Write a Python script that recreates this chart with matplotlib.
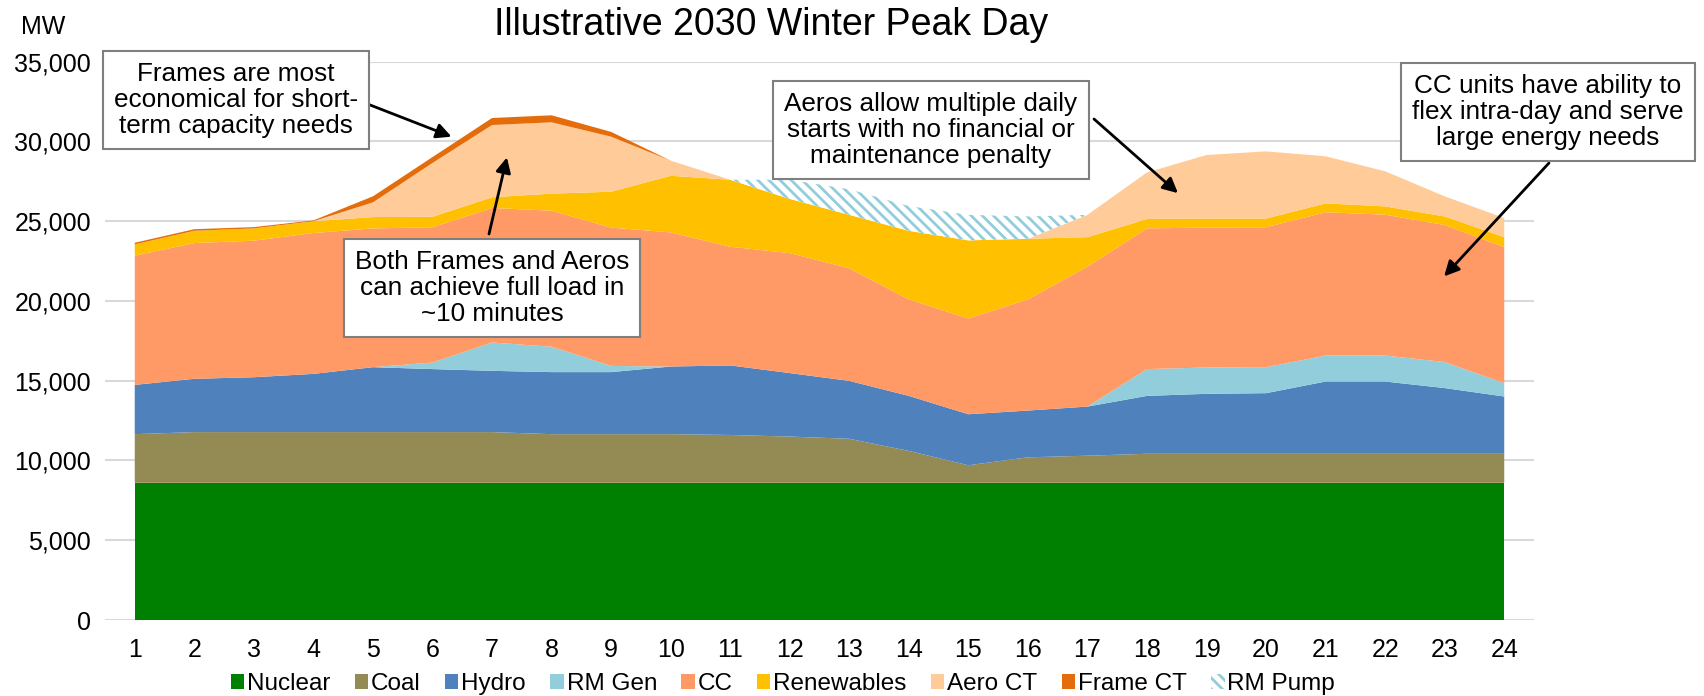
import matplotlib
matplotlib.use("Agg")
import matplotlib.pyplot as plt
from matplotlib.ticker import FuncFormatter

plt.rcParams["font.family"] = ["Liberation Sans", "DejaVu Sans"]
plt.rcParams["hatch.linewidth"] = 2.0
plt.rcParams["hatch.color"] = "#92CDDC"

hours = list(range(1, 25))
labels = ["Nuclear", "Coal", "Hydro", "RM Gen", "CC", "Renewables", "Aero CT", "Frame CT", "RM Pump"]
colors = ["#008000", "#948A54", "#4F81BD", "#92CDDC", "#FF9966", "#FFC000", "#FFCC99", "#E46C0A", "white"]

# MW by hour
nuclear = [8600, 8600, 8600, 8600, 8600, 8600, 8600, 8600, 8600, 8600, 8600, 8600,
           8600, 8600, 8600, 8600, 8600, 8600, 8600, 8600, 8600, 8600, 8600, 8600]
coal = [3050, 3180, 3180, 3180, 3180, 3180, 3180, 3050, 3050, 3050, 3000, 2900,
        2760, 2000, 1100, 1600, 1700, 1820, 1820, 1820, 1820, 1820, 1820, 1820]
hydro = [3090, 3340, 3440, 3650, 4070, 3950, 3840, 3890, 3890, 4240, 4360, 3980,
         3630, 3450, 3200, 2930, 3080, 3630, 3760, 3800, 4530, 4530, 4120, 3590]
rm_gen = [0, 0, 0, 0, 0, 410, 1780, 1590, 390, 0, 0, 0,
          0, 0, 0, 0, 0, 1680, 1650, 1630, 1630, 1630, 1630, 840]
cc = [8100, 8510, 8560, 8830, 8700, 8480, 8430, 8530, 8670, 8410, 7440, 7520,
      7060, 6050, 6000, 6970, 8770, 8820, 8770, 8770, 8980, 8830, 8590, 8530]
renewables = [710, 770, 770, 740, 710, 660, 670, 1070, 2250, 3550, 4200, 3400,
              3350, 4300, 4900, 3800, 1850, 590, 570, 550, 560, 520, 540, 620]
aero_ct = [0, 0, 0, 0, 920, 3370, 4530, 4470, 3450, 950, 0, 0,
           0, 0, 0, 0, 1400, 2920, 3980, 4210, 2950, 2200, 1260, 1200]
frame_ct = [100, 100, 80, 50, 380, 370, 440, 440, 300, 0, 0, 0,
            0, 0, 0, 0, 0, 0, 0, 0, 0, 0, 0, 0]
rm_pump = [0, 0, 0, 0, 0, 0, 0, 0, 0, 0, 0, 1200,
           1600, 1550, 1600, 1400, 0, 0, 0, 0, 0, 0, 0, 0]

W, H = 1704, 696
fig = plt.figure(figsize=(W / 100, H / 100), dpi=100)
ax = fig.add_axes([105 / W, 1 - 620 / H, (1534 - 105) / W, (620 - 61.7) / H])

polys = ax.stackplot(hours, nuclear, coal, hydro, rm_gen, cc, renewables, aero_ct,
                     frame_ct, rm_pump, labels=labels, colors=colors, linewidth=0)
pump = polys[-1]
pump.set_facecolor("white")
pump.set_edgecolor("#92CDDC")
pump.set_hatch("\\\\\\")
if hasattr(pump, "set_hatchcolor"):
    pump.set_hatchcolor("#92CDDC")

ax.set_xlim(0.5, 24.5)
ax.set_ylim(0, 35000)
ax.set_xticks(hours)
ax.set_yticks(range(0, 35001, 5000))
ax.yaxis.set_major_formatter(FuncFormatter(lambda v, p: f"{int(v):,}"))
ax.tick_params(length=0, labelsize=18, pad=10)
ax.tick_params(axis="x", pad=13)
ax.grid(axis="y", color="#D9D9D9", lw=1.5)
ax.set_axisbelow(True)
for s in ax.spines.values():
    s.set_visible(False)

fig.text(771 / W, 1 - 25 / H, "Illustrative 2030 Winter Peak Day", ha="center", va="center", fontsize=27)
fig.text(43 / W, 1 - 27 / H, "MW", ha="center", va="center", fontsize=18)

box = dict(boxstyle="square,pad=0.42", fc="white", ec="#7F7F7F", lw=1.5)
arrow = dict(arrowstyle="-|>,head_length=0.9,head_width=0.45", color="black", lw=2, shrinkA=0, shrinkB=0)

notes = [
    ("Frames are most\neconomical for short-\nterm capacity needs", (236, 100), (365, 103), (6.32, 30300)),
    ("Both Frames and Aeros\ncan achieve full load in\n~10 minutes", (492, 288), (489, 234), (7.25, 29000)),
    ("Aeros allow multiple daily\nstarts with no financial or\nmaintenance penalty", (931, 130), (1094, 119), (18.52, 26760)),
    ("CC units have ability to\nflex intra-day and serve\nlarge energy needs", (1548, 112), (1549, 163), (22.99, 21540)),
]
for txt, (tx, ty), (ax0, ay0), tip in notes:
    ax.annotate("", xy=tip, xycoords="data", xytext=(ax0, H - ay0), textcoords="figure pixels",
                arrowprops=arrow, annotation_clip=False)
    fig.text(tx / W, 1 - ty / H, txt, ha="center", va="center", fontsize=18.8,
             linespacing=1.12, bbox=box, zorder=5)

ax.legend(loc="center", bbox_to_anchor=(783 / W, 1 - 684 / H), bbox_transform=fig.transFigure,
          ncol=9, frameon=False, fontsize=17.5, handlelength=0.55, handleheight=0.55,
          handletextpad=0.12, columnspacing=1.0, borderaxespad=0)

fig.savefig("out.png", dpi=100)
